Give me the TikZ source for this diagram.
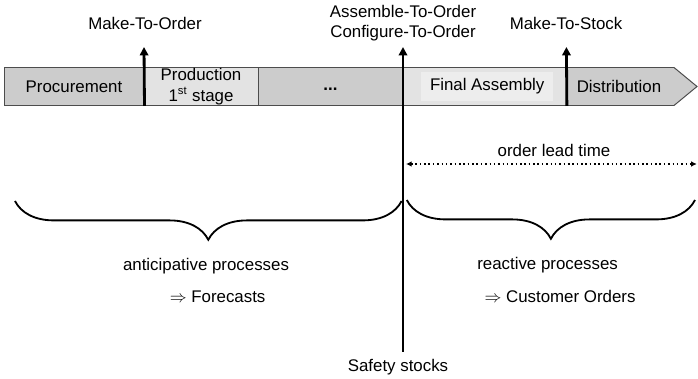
\documentclass[tikz,border=0pt]{standalone}
\usepackage{fontspec}
\setmainfont{Liberation Sans}
\usetikzlibrary{arrows.meta,decorations.pathreplacing,positioning}

\definecolor{stagedark}{gray}{0.80}
\definecolor{stagelight}{gray}{0.89}
\definecolor{stagepale}{gray}{0.93}

\begin{document}
\begin{tikzpicture}[
  every node/.style={font=\fontsize{12}{14.5}\selectfont},
  stage/.style={
    draw=black!70,
    line width=0.7pt,
    minimum height=0.95cm,
    inner sep=0pt,
    align=center
  },
  marker/.style={line width=2pt, -{Triangle[length=6pt,width=6pt]}},
  span/.style={decorate, decoration={brace, mirror, amplitude=0.97cm}, line width=1.3pt}
]
\useasboundingbox (0,0) rectangle (17.45,-9.475);

\node[stage, fill=stagedark, minimum width=3.5cm] at (1.85,-2.1625) (proc) {Procurement};
\node[stage, fill=stagelight, minimum width=2.85cm] at (5.025,-2.1625) (prod) {Production\\1\textsuperscript{st} stage};
\node[stage, fill=stagedark, minimum width=3.625cm] at (8.2625,-2.1625) (more) {\strut\textbf{...}};
\node[stage, fill=stagelight, minimum width=4.085cm] at (12.1175,-2.1625) (asm) {};
\node[fill=stagepale, minimum width=3.29cm, minimum height=0.72cm, inner sep=0pt] at (12.18,-2.1625) (final) {Final Assembly};
\draw[draw=black!70, line width=0.7pt, fill=stagedark]
  (14.16,-1.6875) -- (16.85,-1.6875) -- (17.425,-2.1625) -- (16.85,-2.6375) -- (14.16,-2.6375) -- cycle;
\node at (15.475,-2.1625) (dist) {Distribution};

\node at (3.625,-0.575) (mto) {Make-To-Order};
\node[align=center] at (10.075,-0.575) (ato) {Assemble-To-Order\\Configure-To-Order};
\node at (14.15,-0.575) (mts) {Make-To-Stock};

\coordinate (mtotip) at (3.6,-1.175);
\coordinate (atotip) at (10.075,-1.175);
\coordinate (atofoot) at (10.075,-8.8);
\coordinate (mtstip) at (14.16,-1.175);

\draw[marker] (proc.south east) -- (mtotip);
\draw[marker] (atofoot) -- (atotip);
\draw[marker] (asm.south east) -- (mtstip);

\node at (13.85,-3.75) (lead) {order lead time};
\coordinate (leadl) at (10.15,-4.1);
\coordinate (leadr) at (17.42,-4.1);
\draw[dotted, line width=1.1pt, {Latex[length=4pt,width=4pt]}-{Latex[length=4pt,width=4pt]}] (leadl) -- (leadr);

\draw[span] (0.375,-5.025) -- (10.04,-5.025);
\draw[span] (10.17,-5.0) -- (17.375,-5.0);

\node at (5.15,-6.65) (antic) {anticipative processes};
\node at (5.44,-7.42) (fcast) {$\Rightarrow$ Forecasts};
\node at (13.69,-6.625) (react) {reactive processes};
\node at (14.0,-7.42) (cust) {$\Rightarrow$ Customer Orders};
\node at (9.95,-9.17) (safety) {Safety stocks};
\end{tikzpicture}
\end{document}
